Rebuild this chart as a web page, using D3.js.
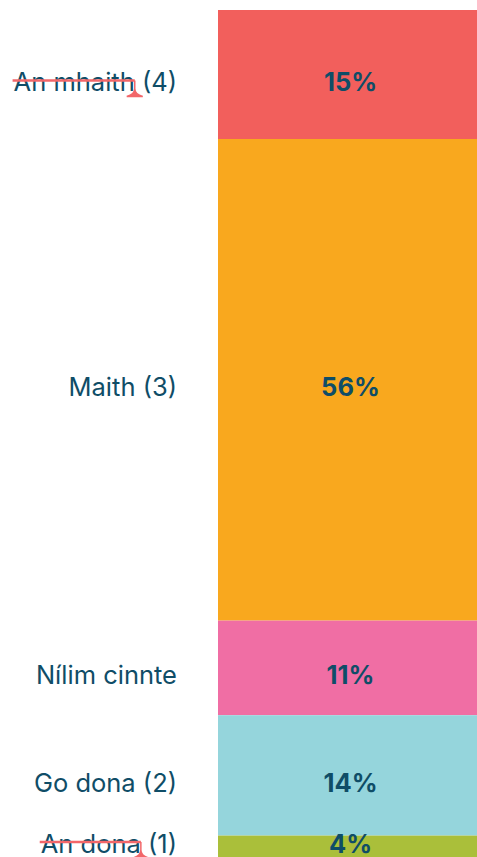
<!DOCTYPE html>
<html>
<head>
<meta charset="utf-8">
<script src="https://cdn.jsdelivr.net/npm/d3@7"></script>
<style>
  html, body { margin: 0; padding: 0; background: #fff; overflow: hidden; }
  text { font-family: Inter, "Noto Sans", sans-serif; }
</style>
</head>
<body>
<script>
'use strict';

const categories = ['An mhaith (4)', 'Maith (3)', 'Nílim cinnte', 'Go dona (2)', 'An dona (1)'];
const values = [15, 56, 11, 14, 4];
const colors = ['#f25f5c', '#f9a81e', '#f06ea4', '#95d5dc', '#aabf3a'];
// part of each label that is crossed out by hand
const struck = ['An mhaith', '', '', '', 'An dona'];

const width = 477;
const height = 857;
const margin = {left: 218, top: 10};
const textColor = '#0f4d67';
const markColor = '#f2676a';
const fontSize = 25.5;

let acc = 0;
const data = categories.map((c, i) => {
  const d = {cat: c, value: values[i], color: colors[i], strike: struck[i], y0: acc};
  acc += values[i];
  d.y1 = acc;
  return d;
});

const yScale = d3.scaleLinear().domain([0, 100]).range([margin.top, margin.top + 860]);

const svg = d3.select('body').append('svg')
  .attr('width', width)
  .attr('height', height);

svg.append('g').selectAll('rect')
  .data(data)
  .enter()
  .append('rect')
  .attr('x', margin.left)
  .attr('width', width - margin.left)
  .attr('y', d => yScale(d.y0))
  .attr('height', d => yScale(d.y1) - yScale(d.y0))
  .attr('fill', d => d.color);

const labelY = d => Math.min((yScale(d.y0) + yScale(d.y1)) / 2 + 7, height - 14);

svg.append('g').selectAll('text')
  .data(data)
  .enter()
  .append('text')
  .attr('x', (margin.left + width) / 2 + 3)
  .attr('y', labelY)
  .attr('text-anchor', 'middle')
  .attr('dominant-baseline', 'central')
  .attr('fill', textColor)
  .attr('font-size', fontSize)
  .attr('font-weight', 700)
  .text(d => d.value + '%');

const cats = svg.append('g').selectAll('text')
  .data(data)
  .enter()
  .append('text')
  .attr('x', 177)
  .attr('y', labelY)
  .attr('text-anchor', 'end')
  .attr('dominant-baseline', 'central')
  .attr('fill', textColor)
  .attr('font-size', fontSize)
  .text(d => d.cat);

// strike-through marks with the little caret
cats.each(function(d) {
  if (!d.strike) return;
  const node = this;
  const len = node.getSubStringLength(0, d.strike.length);
  const start = node.getStartPositionOfChar(0).x;
  const x1 = start + len;
  const y = labelY(d) - 1;
  svg.append('line')
    .attr('x1', start - 1)
    .attr('x2', x1)
    .attr('y1', y)
    .attr('y2', y)
    .attr('stroke', markColor)
    .attr('stroke-width', 2.5);
  svg.append('path')
    .attr('d', `M${x1},${y} L${x1},${y + 8} Q${x1},${y + 14} ${x1 - 8},${y + 16} L${x1 + 8},${y + 16} Q${x1},${y + 14} ${x1},${y + 8} Z`)
    .attr('fill', markColor)
    .attr('stroke', markColor)
    .attr('stroke-width', 1.5);
});
</script>
</body>
</html>
